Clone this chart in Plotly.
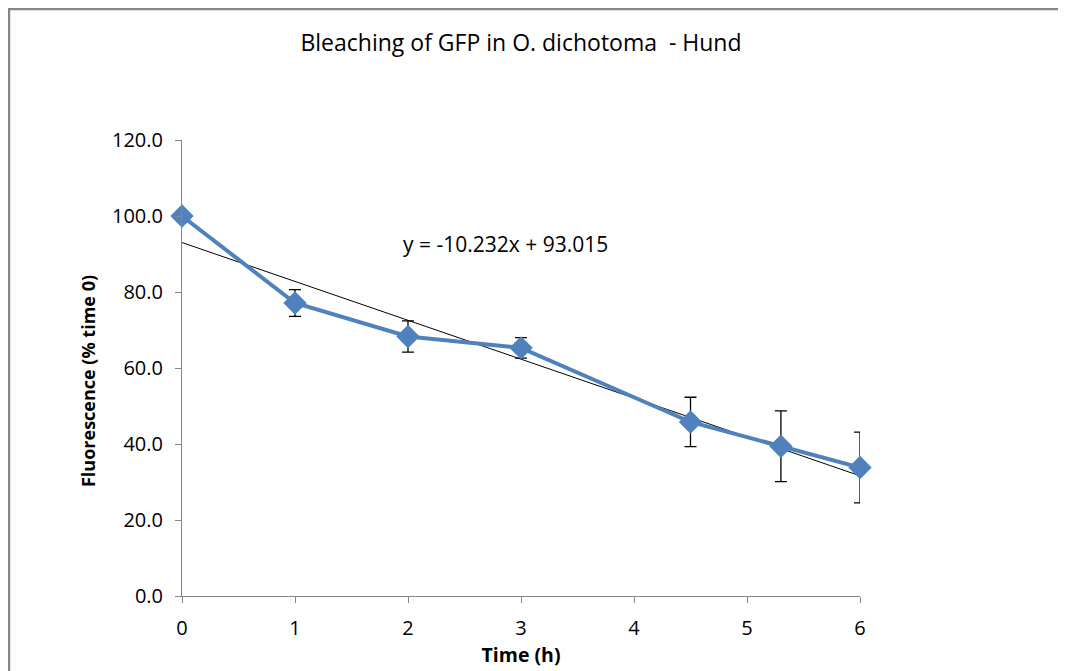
import plotly.graph_objects as go

time_h = [0, 1, 2, 3, 4.5, 5.3, 6]
fluorescence = [100.0, 77.1, 68.3, 65.3, 45.8, 39.4, 33.8]
error = [0.0, 3.5, 4.1, 2.7, 6.5, 9.3, 9.3]

trend_slope = -10.232
trend_intercept = 93.015
trend_x = [0, 6]

y_ticks = [0, 20, 40, 60, 80, 100, 120]
x_ticks = [0, 1, 2, 3, 4, 5, 6]

FONT = "'Open Sans', Carlito, Calibri, sans-serif"
BLUE = "#4F81BD"

fig = go.Figure()

fig.add_trace(go.Scatter(
    x=trend_x,
    y=[trend_slope * v + trend_intercept for v in trend_x],
    mode="lines",
    line=dict(color="#000000", width=1),
    showlegend=False,
    hoverinfo="skip",
))

fig.add_trace(go.Scatter(
    x=time_h,
    y=fluorescence,
    mode="lines+markers",
    line=dict(color=BLUE, width=4),
    marker=dict(symbol="diamond", size=18, color=BLUE),
    error_y=dict(type="data", array=error, visible=True, color="#000000",
                 thickness=1.3, width=6),
    showlegend=False,
    cliponaxis=False,
))

fig.add_annotation(
    x=2.86, y=92.6, xref="x", yref="y",
    text="y = -10.232x + 93.015",
    showarrow=False,
    font=dict(family=FONT, size=21, color="#000000"),
)

# y-axis title (placed as annotation to match offset)
fig.add_annotation(
    x=-0.1386, y=0.4715, xref="paper", yref="paper",
    text="<b>Fluorescence (% time 0)</b>", textangle=-90,
    showarrow=False, xanchor="center", yanchor="middle",
    font=dict(family=FONT, size=18, color="#000000"),
)

# outer chart border (top and left visible)
fig.add_shape(type="rect", xref="paper", yref="paper",
              x0=-0.2552, x1=1.5, y0=-0.5, y1=1.2873,
              line=dict(color="#868686", width=2.5), fillcolor="rgba(0,0,0,0)",
              layer="below")

fig.update_layout(
    width=1066, height=671,
    margin=dict(l=174, r=214, t=132, b=83),
    paper_bgcolor="white",
    plot_bgcolor="white",
    title=dict(text="Bleaching of GFP in O. dichotoma  - Hund",
               x=0.5, xanchor="center", y=0.948, yanchor="middle",
               xref="paper",
               font=dict(family=FONT, size=23, color="#000000")),
    font=dict(family=FONT, color="#000000"),
    xaxis=dict(
        range=[0, 6], tickvals=x_ticks, ticks="outside", ticklen=6,
        tickcolor="#868686", showline=True, linecolor="#868686", linewidth=1,
        showgrid=False, zeroline=False, ticklabelstandoff=8,
        tickfont=dict(family=FONT, size=20, color="#000000"),
        title=dict(text="<b>Time (h)</b>", standoff=8,
                   font=dict(family=FONT, size=19.5, color="#000000")),
    ),
    yaxis=dict(
        range=[0, 120], tickvals=y_ticks, tickformat=".1f", ticks="outside",
        ticklen=6, tickcolor="#868686", showline=True, linecolor="#868686",
        linewidth=1, showgrid=False, zeroline=False, ticklabelstandoff=8,
        tickfont=dict(family=FONT, size=20, color="#000000"),
    ),
)

fig.write_html("out.html")
